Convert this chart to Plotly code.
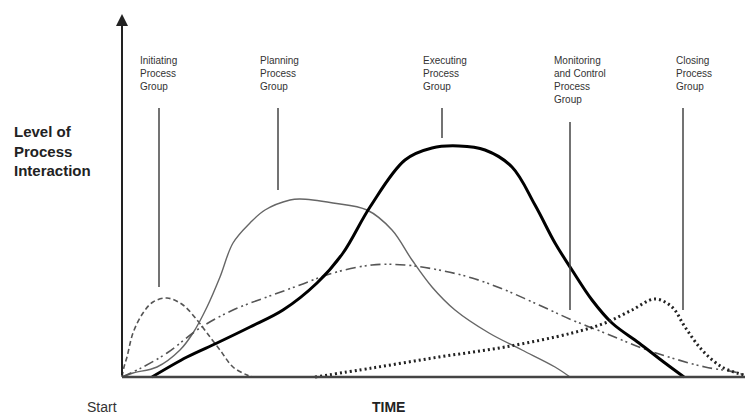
import plotly.graph_objects as go

# Time axis (arbitrary units) and level of process interaction
init_t = [0, 2, 5, 11, 21, 31, 45, 61, 75, 85, 98, 111, 125, 131]
init_v = [0, 10, 20, 44, 64, 75, 79, 72, 57, 44, 27, 10, 2, 0]

plan_t = [0, 11, 35, 58, 71, 85, 98, 111, 128, 143, 168, 178, 211, 245, 270, 290, 310, 333, 367, 400, 433, 448]
plan_v = [0, 4, 10, 27, 44, 70, 100, 134, 154, 167, 177, 178, 174, 167, 147, 117, 90, 67, 44, 27, 10, 0]

exec_t = [30, 65, 95, 128, 161, 195, 221, 248, 283, 310, 337, 363, 390, 413, 433, 450, 470, 490, 517, 543, 562]
exec_v = [0, 20, 34, 50, 67, 94, 124, 170, 217, 229, 231, 227, 210, 172, 134, 107, 77, 54, 34, 14, 0]

mon_t = [0, 21, 45, 78, 111, 145, 178, 211, 250, 283, 317, 350, 383, 417, 450, 483, 517, 550, 583, 617, 623]
mon_v = [0, 10, 24, 49, 67, 80, 92, 104, 112, 112, 107, 99, 87, 72, 57, 44, 30, 19, 10, 4, 1]

close_t = [193, 250, 317, 383, 450, 483, 510, 533, 550, 563, 580, 600, 622]
close_v = [0, 9, 20, 30, 44, 54, 67, 78, 70, 50, 27, 10, 2]

labels = ["Initiating<br>Process<br>Group", "Planning<br>Process<br>Group",
          "Executing<br>Process<br>Group", "Monitoring<br>and Control<br>Process<br>Group",
          "Closing<br>Process<br>Group"]
label_text_t = [16, 136, 299, 430, 552]
label_line_t = [37, 156, 320, 448, 561]
label_line_bottom = [90, 187, 239, 67, 67]
label_line_top = [269, 269, 269, 255, 269]

W, H = 745, 419
ML, MB = 117, 37
PW, PH = W - ML, H - MB


def px(x):
    return (x - ML) / PW


def py(y):
    return (PH - y) / PH


fig = go.Figure()
fig.add_trace(go.Scatter(x=init_t, y=init_v, mode="lines", line=dict(color="#555", width=1.6, dash="5px,3px", shape="spline")))
fig.add_trace(go.Scatter(x=plan_t, y=plan_v, mode="lines", line=dict(color="#666", width=1.4, shape="spline")))
fig.add_trace(go.Scatter(x=mon_t, y=mon_v, mode="lines", line=dict(color="#555", width=1.6, dash="10px,4px,2px,3px,2px,4px", shape="spline")))
fig.add_trace(go.Scatter(x=exec_t, y=exec_v, mode="lines", line=dict(color="#000", width=3, shape="spline")))
fig.add_trace(go.Scatter(x=close_t, y=close_v, mode="lines", line=dict(color="#222", width=3, dash="2px,3px", shape="spline")))

for i in range(len(labels)):
    fig.add_trace(go.Scatter(x=[label_line_t[i], label_line_t[i]], y=[label_line_bottom[i], label_line_top[i]],
                             mode="lines", line=dict(color="#444", width=1.5)))
    fig.add_annotation(x=label_text_t[i], y=324, xref="x", yref="y", text=labels[i], showarrow=False,
                       xanchor="left", yanchor="top", align="left",
                       font=dict(family="Liberation Sans", size=10, color="#333"))

# axes
fig.add_shape(type="line", x0=0, y0=0, x1=623, y1=0, line=dict(color="#444", width=2.5))
fig.add_annotation(x=0, y=363, ax=0, ay=0, xref="x", yref="y", axref="x", ayref="y", text="",
                   showarrow=True, arrowhead=2, arrowsize=1.2, arrowwidth=2, arrowcolor="#222")

fig.add_annotation(x=px(12), y=py(121), xref="paper", yref="paper", text="<b>Level of<br>Process<br>Interaction</b>",
                   showarrow=False, xanchor="left", yanchor="top", align="left",
                   font=dict(family="Liberation Sans", size=15, color="#222"))
fig.add_annotation(x=px(85), y=py(407), xref="paper", yref="paper", text="Start", showarrow=False,
                   xanchor="left", yanchor="middle", font=dict(family="Liberation Sans", size=14, color="#333"))
fig.add_annotation(x=px(388), y=py(407), xref="paper", yref="paper", text="<b>TIME</b>", showarrow=False,
                   xanchor="center", yanchor="middle", font=dict(family="Liberation Sans", size=14, color="#222"))

fig.update_layout(width=W, height=H, autosize=False, showlegend=False,
                  margin=dict(l=ML, r=0, t=0, b=MB),
                  plot_bgcolor="white", paper_bgcolor="white",
                  xaxis=dict(range=[-5, 623], visible=False),
                  yaxis=dict(range=[-5, 377], visible=False))

fig.write_html("out.html", config={"displayModeBar": False},
               post_script="document.body.style.margin='0';")
